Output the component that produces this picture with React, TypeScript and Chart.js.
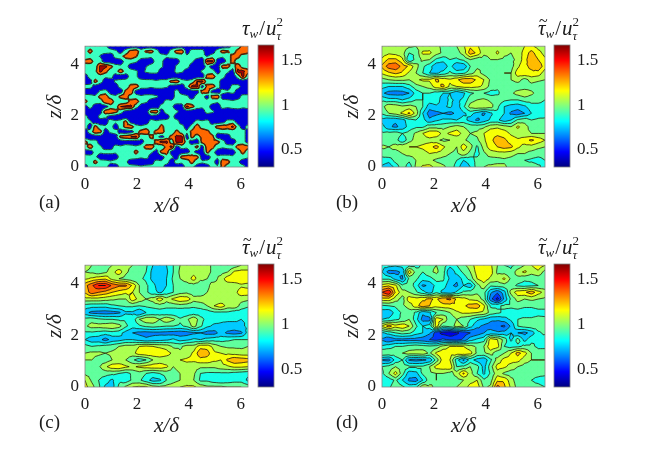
import React, { useEffect, useRef } from "react";
import { Chart, registerables } from "chart.js";
Chart.register(...registerables);

const xMax = 6.283;
const zMax = 4.712;
const xTicks = [0, 2, 4, 6];
const zTicks = [0, 2, 4];
const cbTicks = [0.5, 1, 1.5];
const cbMin = 0.31;
const cbMax = 1.67;
const levelsA = [0.2, 0.72, 1.12, 1.18, 1.5, 2.0];
const bandsA = [0.43, 0.9, 1.36, 1.36, 1.62];
const levelsB = [0.3, 0.4, 0.5, 0.6, 0.7, 0.8, 0.9, 1.0, 1.1, 1.2, 1.3, 1.4, 1.5, 1.6, 1.7];

// rows run from the top of the plot (z = zMax) to the bottom (z = 0); tenths
const gridA = [
[8,9,9,9,8,5,4,4,4,4,4,4,4,4,4,4,4,4,4,4,4,4,4,4,4,4,4,4,5,8,9,13,14],
[9,13,9,8,9,9,8,5,9,13,14,9,12,13,9,5,5,9,13,14,5,9,9,9,4,5,9,13,12,9,13,15,13],
[8,9,8,7,5,4,9,10,13,14,12,9,9,8,9,9,8,9,9,9,8,9,9,8,7,9,9,8,9,13,13,9,9],
[13,14,9,9,4,4,4,5,9,9,8,5,4,5,9,8,5,4,5,9,9,8,5,4,16,16,5,4,9,13,9,9,8],
[9,8,9,16,16,13,9,8,9,5,4,4,7,9,9,8,5,4,8,9,9,5,4,4,9,5,4,13,13,9,14,9,9],
[9,9,10,16,13,9,9,14,9,9,8,5,8,9,9,5,4,4,9,8,5,4,4,8,9,9,5,9,8,5,16,16,13],
[5,9,9,9,8,9,5,4,5,9,8,5,4,4,4,4,4,4,4,4,4,4,4,4,13,14,9,9,5,4,9,16,9],
[4,5,13,9,5,4,8,9,9,9,8,9,9,9,8,9,9,13,14,9,8,9,15,16,9,8,9,5,4,4,4,4,4],
[9,9,5,4,4,4,5,9,8,13,14,9,9,8,9,9,8,5,4,5,9,16,16,5,13,14,9,5,4,9,9,5,4],
[5,4,4,8,9,5,4,4,13,15,5,4,4,4,4,4,4,5,9,5,4,4,5,13,14,5,4,9,8,9,5,4,4],
[9,9,8,13,14,9,8,13,14,9,9,8,9,9,8,5,4,5,9,9,8,5,9,9,5,13,14,5,4,4,5,9,9],
[13,9,9,9,14,15,9,8,9,13,14,9,8,5,4,5,9,8,9,9,8,9,9,8,9,9,8,9,9,8,9,9,8],
[5,9,5,4,5,9,9,15,16,16,9,5,4,4,4,9,9,8,5,5,16,13,9,8,9,5,4,9,8,9,9,8,9],
[4,4,4,5,14,15,13,9,5,3,3,4,4,13,14,5,9,9,8,5,4,4,4,5,9,8,5,4,4,4,5,5,4],
[9,5,4,9,8,5,4,4,4,3,3,4,4,5,4,4,5,9,5,4,4,4,4,4,4,4,4,4,4,4,4,4,4],
[9,8,5,4,5,9,8,9,13,5,4,4,5,9,8,9,9,8,9,5,4,5,9,8,9,5,4,5,9,9,5,4,4],
[9,5,13,9,8,9,5,9,13,14,9,8,9,9,8,13,9,9,8,9,5,9,14,9,8,9,13,14,13,16,9,5,9],
[5,9,14,13,5,8,9,5,4,5,9,13,15,9,13,14,9,8,13,9,8,13,14,15,13,9,8,9,9,8,9,9,5],
[4,4,4,5,4,4,5,13,14,15,16,9,8,13,9,5,9,13,16,16,5,13,9,13,14,13,5,4,5,9,8,9,5],
[13,9,9,5,4,4,4,4,5,4,4,5,9,8,13,16,16,9,16,16,9,5,4,13,14,13,13,9,5,4,9,9,5],
[9,14,9,8,5,5,9,8,9,9,8,9,13,14,9,8,13,16,5,9,8,9,13,5,14,13,9,8,9,9,13,14,13],
[5,4,9,8,9,9,8,9,9,8,13,9,9,8,5,13,14,5,4,4,5,9,5,4,13,9,5,4,4,5,9,13,9],
[9,9,8,5,4,4,5,9,8,9,9,8,9,5,4,5,9,8,5,13,14,13,13,5,4,9,8,9,9,8,9,9,8],
[9,8,13,9,9,8,9,9,8,5,4,4,4,5,9,8,9,5,9,8,9,13,9,8,9,9,5,14,13,9,8,5,4],
[5,9,8,9,9,5,4,9,8,9,9,8,9,9,8,9,5,4,4,5,9,8,5,4,5,9,8,13,9,8,9,9,5],
];

// hundredths
const gridB = [
[100,102,104,104,102,100,104,106,102,98,98,100,108,118,112,102,100,106,100,100,102,110,112,106,104],
[104,108,106,104,90,92,112,112,104,98,96,96,104,125,118,102,102,112,102,100,104,114,124,114,106],
[112,122,122,112,80,94,102,100,88,84,90,88,92,100,94,96,100,100,98,98,102,116,128,120,112],
[122,135,138,126,118,104,92,84,72,72,85,70,72,90,98,100,94,92,92,96,108,118,122,128,114],
[112,118,122,118,108,100,90,80,78,84,92,86,88,96,104,96,90,94,100,100,116,118,118,116,104],
[96,100,102,102,100,108,112,112,122,116,112,118,126,126,118,110,98,90,94,100,104,96,104,102,100],
[84,80,80,80,86,96,100,104,116,122,108,110,114,114,112,108,96,92,92,94,94,94,96,94,92],
[72,66,65,66,70,84,90,90,84,80,80,70,78,88,92,90,86,88,96,98,104,108,102,96,92],
[88,84,84,80,84,90,90,86,86,74,82,78,82,96,100,102,98,96,92,90,90,94,94,92,90],
[96,108,106,102,104,100,90,74,78,78,82,74,88,104,108,108,104,92,80,76,74,78,86,88,88],
[92,100,104,112,122,106,80,65,67,70,67,72,78,84,76,68,78,88,80,68,65,70,80,84,86],
[76,72,72,76,86,90,84,72,78,82,82,80,84,76,68,74,82,82,74,80,92,96,90,92,92],
[84,72,68,74,84,88,88,96,96,96,100,104,100,96,96,98,106,108,104,100,112,104,96,92,92],
[92,94,96,90,94,102,110,118,118,106,112,116,106,100,102,110,118,118,116,108,104,102,100,100,100],
[94,96,94,82,96,104,106,106,102,98,100,100,102,96,98,108,118,124,122,116,112,116,122,116,110],
[102,100,104,108,110,110,112,116,124,112,104,100,116,104,88,104,116,120,124,122,112,106,106,102,100],
[94,98,94,100,104,104,106,110,108,104,100,98,106,96,86,98,104,106,106,104,100,100,96,94,94],
[86,84,94,96,92,100,104,102,98,96,96,90,80,84,94,98,96,96,98,96,92,90,88,86,90],
[78,72,84,96,84,102,112,114,106,102,96,86,72,80,94,100,102,104,102,96,90,92,96,92,86],
];

const gridC = [
[104,100,94,96,100,100,102,100,96,92,80,78,80,90,100,104,104,102,102,98,92,90,94,100,100],
[100,98,94,98,106,116,102,96,94,90,76,76,78,90,102,104,106,104,102,98,96,100,112,114,114],
[108,112,116,118,106,100,96,92,92,88,76,70,80,92,100,104,114,102,100,96,104,116,118,118,118],
[126,138,150,150,138,132,132,118,100,92,84,72,80,90,96,96,96,94,98,104,104,104,104,108,106],
[122,136,130,126,120,116,112,110,100,92,84,78,84,90,96,98,94,92,100,104,104,102,106,116,116],
[106,106,106,104,102,100,100,116,106,100,104,116,104,112,118,116,104,106,106,100,100,104,106,104,102],
[86,84,84,84,88,90,92,92,90,92,94,96,94,94,96,94,92,94,100,110,116,106,108,96,92],
[74,67,66,65,66,68,78,78,70,80,82,84,82,82,80,82,84,84,84,88,88,88,84,84,82],
[94,96,92,90,90,88,88,84,100,108,108,100,108,102,92,98,108,94,86,84,82,82,82,80,80],
[98,104,104,106,108,104,92,84,88,92,94,92,90,90,88,92,104,92,82,78,78,76,76,78,82],
[88,88,86,84,86,84,76,70,67,66,67,67,66,65,64,65,68,70,66,66,74,68,66,68,84],
[80,74,74,66,74,76,80,80,76,72,74,76,78,82,76,78,82,80,84,86,86,88,90,90,90],
[94,90,92,94,96,100,104,104,110,112,110,108,106,98,98,104,104,116,116,106,100,98,98,98,100],
[100,102,102,100,102,104,106,106,116,118,118,118,114,108,102,104,112,128,124,112,110,108,106,104,104],
[100,100,96,94,100,100,100,92,84,90,100,104,104,104,110,112,112,116,116,112,110,122,128,126,124],
[94,94,98,108,116,118,112,108,112,114,116,116,112,100,104,106,104,102,102,102,106,108,112,112,110],
[98,96,94,94,92,90,86,92,96,90,86,90,94,96,100,102,102,90,88,88,88,88,86,84,82],
[110,98,90,84,78,88,84,92,92,84,76,78,90,96,100,104,100,88,88,84,82,84,86,86,78],
[114,104,92,78,76,92,102,110,112,112,104,102,104,106,110,112,112,106,102,102,102,100,100,100,96],
];

const gridD = [
[84,84,82,84,86,86,92,98,100,96,84,90,98,104,116,118,112,100,90,88,92,100,110,116,110],
[80,66,67,72,116,96,90,98,102,94,70,84,92,100,114,118,114,98,96,92,106,112,104,108,96],
[88,88,76,68,92,92,84,86,94,92,78,72,84,94,110,116,108,104,112,98,96,92,92,94,92],
[114,118,112,92,96,86,68,72,84,86,72,68,80,74,96,106,92,94,96,94,88,86,88,90,92],
[140,150,118,104,100,92,84,74,88,76,72,82,92,94,98,94,72,62,76,104,116,118,126,114,106],
[116,116,104,96,116,114,118,122,118,128,132,118,114,108,106,96,64,46,72,92,104,100,102,100,98],
[88,90,92,98,104,116,126,120,114,116,116,118,118,124,126,112,88,88,92,92,94,92,92,94,96],
[74,72,84,92,96,88,72,78,90,94,100,108,112,112,110,108,96,92,88,86,86,84,84,86,84],
[80,82,88,92,100,84,66,66,116,110,92,100,94,90,82,78,72,72,76,82,90,92,92,94,94],
[112,124,114,118,110,92,80,84,116,90,94,104,100,84,72,68,66,62,58,72,90,94,96,96,96],
[78,84,90,94,92,84,80,72,54,46,42,48,54,60,64,70,74,72,74,80,70,67,74,88,92],
[68,62,67,67,66,66,64,60,56,62,58,56,62,76,82,86,116,110,96,78,94,76,88,90,84],
[82,86,90,90,94,96,94,92,94,104,110,110,110,104,98,100,118,114,90,86,88,92,92,88,88],
[100,98,96,100,104,104,106,98,112,118,114,116,118,114,98,98,104,92,100,110,124,114,100,94,94],
[68,66,84,90,68,66,68,72,94,116,110,84,68,84,76,72,88,104,114,114,114,104,100,100,100],
[90,94,100,96,92,92,92,100,114,116,118,90,92,100,94,76,96,114,112,106,100,96,96,94,94],
[88,100,114,94,74,76,92,98,100,100,96,104,122,104,90,78,92,106,98,94,96,94,92,92,92],
[80,84,92,80,68,66,80,96,100,98,96,96,100,106,110,92,96,118,118,104,94,94,90,88,86],
[84,88,96,92,86,88,108,102,98,96,96,100,104,114,116,98,102,134,122,108,96,96,92,92,90],
];

const SERIF = '"Liberation Serif", serif';
const TEXT = "#1c1c1c";

function jet(v: number) {
  const t = (v - cbMin) / (cbMax - cbMin);
  const c = (x: number) => Math.round(255 * Math.max(0, Math.min(1, 1.5 - Math.abs(4 * t - x))));
  return `rgb(${c(3)},${c(2)},${c(1)})`;
}

type P = [number, number, number];
function clipBand(poly: P[], lv: number, keepAbove: boolean): P[] {
  const out: P[] = [];
  for (let i = 0; i < poly.length; i++) {
    const a = poly[i];
    const b = poly[(i + 1) % poly.length];
    const ina = keepAbove ? a[2] >= lv : a[2] <= lv;
    const inb = keepAbove ? b[2] >= lv : b[2] <= lv;
    if (ina) out.push(a);
    if (ina !== inb) {
      const t = (lv - a[2]) / (b[2] - a[2]);
      out.push([a[0] + t * (b[0] - a[0]), a[1] + t * (b[1] - a[1]), lv]);
    }
  }
  return out;
}

const contourPlugin = {
  id: "contour",
  beforeDatasetsDraw(chart: any, _a: any, o: any) {
    const { ctx, chartArea: ca, scales } = chart;
    const rows: number[][] = o.grid;
    const nr = rows.length;
    const nc = rows[0].length;
    const levels: number[] = o.levels;
    const px = (i: number) => scales.x.getPixelForValue((xMax * i) / (nc - 1));
    const py = (j: number) => scales.y.getPixelForValue(zMax * (1 - j / (nr - 1)));
    const val = (j: number, i: number) => (rows[j][i] ?? rows[j][rows[j].length - 1]) * o.unit;
    const tris: P[][] = [];
    for (let j = 0; j < nr - 1; j++) {
      for (let i = 0; i < nc - 1; i++) {
        const a: P = [px(i), py(j), val(j, i)];
        const b: P = [px(i + 1), py(j), val(j, i + 1)];
        const c: P = [px(i + 1), py(j + 1), val(j + 1, i + 1)];
        const d: P = [px(i), py(j + 1), val(j + 1, i)];
        const m: P = [(a[0] + c[0]) / 2, (a[1] + c[1]) / 2, (a[2] + b[2] + c[2] + d[2]) / 4];
        tris.push([a, b, m], [b, c, m], [c, d, m], [d, a, m]);
      }
    }
    ctx.save();
    ctx.beginPath();
    ctx.rect(ca.left, ca.top, ca.width, ca.height);
    ctx.clip();
    for (let k = 0; k < levels.length - 1; k++) {
      const col = jet(o.bandValues ? o.bandValues[k] : (levels[k] + levels[k + 1]) / 2);
      ctx.fillStyle = col;
      ctx.strokeStyle = col;
      ctx.lineWidth = 0.6;
      ctx.beginPath();
      for (const t of tris) {
        let p = clipBand(t, levels[k], true);
        if (p.length) p = clipBand(p, levels[k + 1], false);
        if (p.length < 3) continue;
        ctx.moveTo(p[0][0], p[0][1]);
        for (let q = 1; q < p.length; q++) ctx.lineTo(p[q][0], p[q][1]);
        ctx.closePath();
      }
      ctx.fill();
      ctx.stroke();
    }
    ctx.strokeStyle = "#111";
    ctx.lineWidth = 0.75;
    ctx.beginPath();
    for (let k = 1; k < levels.length - 1; k++) {
      const lv = levels[k];
      for (const t of tris) {
        const pts: number[][] = [];
        for (let e = 0; e < 3; e++) {
          const a = t[e];
          const b = t[(e + 1) % 3];
          if (a[2] >= lv !== b[2] >= lv) {
            const f = (lv - a[2]) / (b[2] - a[2]);
            pts.push([a[0] + f * (b[0] - a[0]), a[1] + f * (b[1] - a[1])]);
          }
        }
        if (pts.length === 2) {
          ctx.moveTo(pts[0][0], pts[0][1]);
          ctx.lineTo(pts[1][0], pts[1][1]);
        }
      }
    }
    ctx.stroke();
    ctx.restore();
  },
  afterDraw(chart: any, _a: any, o: any) {
    const { ctx, chartArea: ca } = chart;
    ctx.save();
    ctx.strokeStyle = "#808080";
    ctx.lineWidth = 0.8;
    ctx.strokeRect(ca.left, ca.top, ca.width, ca.height);
    ctx.fillStyle = TEXT;
    ctx.font = `19px ${SERIF}`;
    ctx.textBaseline = "middle";
    ctx.textAlign = "left";
    ctx.fillText(o.label, 9, ca.bottom + 36);
    ctx.restore();
  },
};

const cbPlugin = {
  id: "cbar",
  afterDraw(chart: any, _a: any, o: any) {
    const { ctx, chartArea: ca } = chart;
    ctx.save();
    ctx.strokeStyle = "#808080";
    ctx.lineWidth = 0.8;
    ctx.strokeRect(ca.left, ca.top, ca.width, ca.height);
    ctx.fillStyle = TEXT;
    ctx.textBaseline = "alphabetic";
    const y = ca.top - 10;
    let x = ca.left - 16;
    const it = `italic 21px ${SERIF}`;
    const sm = `italic 13px ${SERIF}`;
    const put = (s: string, f: string, dy: number) => {
      ctx.font = f;
      ctx.fillText(s, x, y + dy);
      x += ctx.measureText(s).width;
    };
    if (o.tilde) {
      ctx.font = `16px ${SERIF}`;
      ctx.fillText("~", x + 1, y - 9);
    }
    put("τ", it, 0);
    put("w", sm, 3);
    x += 1;
    put("/", `21px ${SERIF}`, 0);
    x += 1;
    put("u", it, 0);
    const x0 = x;
    put("2", `13px ${SERIF}`, -9);
    x = x0;
    put("τ", sm, 5);
    ctx.restore();
  },
};

type Panel = { grid: number[][]; unit: number; levels: number[]; bandValues?: number[]; label: string; tilde: boolean; left: number; top: number; h: number; cbLeft: number };

const panels: Panel[] = [
  { grid: gridA, unit: 0.1, levels: levelsA, bandValues: bandsA, label: "(a)", tilde: false, left: 85, top: 45, h: 122, cbLeft: 258 },
  { grid: gridB, unit: 0.01, levels: levelsB, label: "(b)", tilde: true, left: 382, top: 45, h: 122, cbLeft: 554 },
  { grid: gridC, unit: 0.01, levels: levelsB, label: "(c)", tilde: true, left: 85, top: 264, h: 123, cbLeft: 258 },
  { grid: gridD, unit: 0.01, levels: levelsB, label: "(d)", tilde: true, left: 382, top: 264, h: 123, cbLeft: 554 },
];

function PanelView({ p }: { p: Panel }) {
  const mainRef = useRef<HTMLCanvasElement>(null);
  const cbRef = useRef<HTMLCanvasElement>(null);
  useEffect(() => {
    const font = { family: SERIF, size: 17 };
    const points: { x: number; y: number }[] = [];
    const main = new Chart(mainRef.current!, {
      type: "scatter",
      data: { datasets: [{ data: points, pointRadius: 0 }] },
      plugins: [contourPlugin],
      options: {
        animation: false,
        responsive: false,
        devicePixelRatio: 1,
        layout: { padding: { left: 0, top: 15, right: 7, bottom: 0 } },
        plugins: {
          legend: { display: false },
          tooltip: { enabled: false },
          contour: { grid: p.grid, unit: p.unit, levels: p.levels, bandValues: p.bandValues, label: p.label },
        },
        scales: {
          x: {
            type: "linear",
            min: 0,
            max: xMax,
            grid: { drawOnChartArea: false, drawTicks: false },
            border: { display: false },
            afterBuildTicks: (s: any) => { s.ticks = xTicks.map((value) => ({ value })); },
            afterFit: (s: any) => { s.height = 53; },
            ticks: { font, color: TEXT, padding: 7, maxRotation: 0, autoSkip: false },
            title: { display: true, text: "x/δ", color: TEXT, font: { family: SERIF, size: 21, style: "italic" }, padding: { top: 0, bottom: 1 } },
          },
          y: {
            type: "linear",
            min: 0,
            max: zMax,
            grid: { drawOnChartArea: false, drawTicks: false },
            border: { display: false },
            afterBuildTicks: (s: any) => { s.ticks = zTicks.map((value) => ({ value })); },
            afterFit: (s: any) => { s.width = 55; },
            ticks: { font, color: TEXT, padding: 6, autoSkip: false },
            title: { display: true, text: "z/δ", color: TEXT, font: { family: SERIF, size: 21, style: "italic" }, padding: { top: 13, bottom: 0 } },
          },
        },
      },
    } as any);
    const cb = new Chart(cbRef.current!, {
      type: "bar",
      data: {
        labels: ["colorbar"],
        datasets: [{
          data: [[cbMin, cbMax]],
          barPercentage: 1,
          categoryPercentage: 1,
          backgroundColor: (ctx: any) => {
            const ca = ctx.chart.chartArea;
            if (!ca) return "#000";
            const g = ctx.chart.ctx.createLinearGradient(0, ca.bottom, 0, ca.top);
            for (let i = 0; i <= 32; i++) {
              g.addColorStop(i / 32, jet(cbMin + ((cbMax - cbMin) * i) / 32));
            }
            return g;
          },
        }],
      },
      plugins: [cbPlugin],
      options: {
        animation: false,
        responsive: false,
        devicePixelRatio: 1,
        layout: { padding: { left: 23, top: 35, right: 0, bottom: 13 } },
        plugins: { legend: { display: false }, tooltip: { enabled: false }, cbar: { tilde: p.tilde } },
        scales: {
          x: { display: false },
          y: {
            position: "right",
            min: cbMin,
            max: cbMax,
            grid: { drawOnChartArea: false, drawTicks: false },
            border: { display: false },
            afterBuildTicks: (s: any) => { s.ticks = cbTicks.map((value) => ({ value })); },
            afterFit: (s: any) => { s.width = 47; s.paddingTop = 0; s.paddingBottom = 0; },
            ticks: { font, color: TEXT, padding: 7, autoSkip: false, callback: (v: any) => String(v) },
          },
        },
      },
    } as any);
    return () => { main.destroy(); cb.destroy(); };
  }, [p]);
  const abs = { position: "absolute" as const, display: "block" };
  return (
    <>
      <canvas ref={mainRef} width={225} height={p.h + 68} style={{ ...abs, left: p.left - 55, top: p.top - 15 }} />
      <canvas ref={cbRef} width={86} height={p.h + 48} style={{ ...abs, left: p.cbLeft - 23, top: p.top - 35 }} />
    </>
  );
}

export default function App() {
  return (
    <div style={{ position: "absolute", left: 0, top: 0, width: 664, height: 455, background: "#fff", overflow: "hidden" }}>
      {panels.map((p) => <PanelView key={p.label} p={p} />)}
    </div>
  );
}
